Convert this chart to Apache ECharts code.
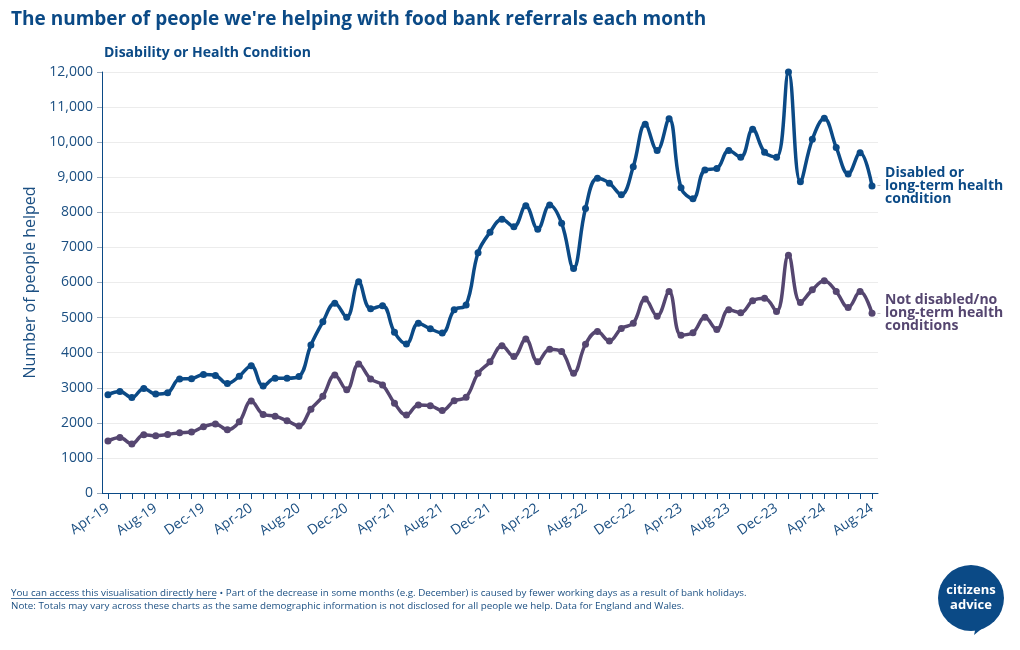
<!DOCTYPE html>
<html>
<head>
<meta charset="utf-8">
<script src="https://cdn.jsdelivr.net/npm/echarts@6/dist/echarts.min.js"></script>
<style>html,body{margin:0;padding:0;background:#fff;}#c{width:1020px;height:650px;}</style>
</head>
<body>
<div id="c"></div>
<script>
const months = ['Apr-19','May-19','Jun-19','Jul-19','Aug-19','Sep-19','Oct-19','Nov-19','Dec-19',
'Jan-20','Feb-20','Mar-20','Apr-20','May-20','Jun-20','Jul-20','Aug-20','Sep-20','Oct-20','Nov-20','Dec-20',
'Jan-21','Feb-21','Mar-21','Apr-21','May-21','Jun-21','Jul-21','Aug-21','Sep-21','Oct-21','Nov-21','Dec-21',
'Jan-22','Feb-22','Mar-22','Apr-22','May-22','Jun-22','Jul-22','Aug-22','Sep-22','Oct-22','Nov-22','Dec-22',
'Jan-23','Feb-23','Mar-23','Apr-23','May-23','Jun-23','Jul-23','Aug-23','Sep-23','Oct-23','Nov-23','Dec-23',
'Jan-24','Feb-24','Mar-24','Apr-24','May-24','Jun-24','Jul-24','Aug-24'];

const disabled = [2800,2890,2720,2980,2820,2860,3250,3260,3380,3350,3120,3330,3630,3050,3270,3270,3320,4220,4880,5410,5010,
6020,5250,5340,4580,4250,4840,4680,4560,5220,5360,6850,7430,7800,7590,8190,7520,8210,7690,6400,8110,
8970,8830,8500,9300,10510,9760,10670,8700,8390,9210,9250,9760,9570,10370,9710,9570,12000,8870,10080,10680,9850,9090,9700,8750];

const notDisabled = [1480,1580,1400,1660,1630,1670,1720,1740,1890,1970,1800,2030,2620,2240,2190,2060,1910,2390,2760,3360,2940,
3680,3250,3080,2560,2220,2510,2490,2350,2630,2730,3410,3740,4200,3890,4390,3740,4100,4030,3410,4240,
4600,4330,4690,4840,5530,5040,5740,4500,4570,5010,4660,5220,5140,5480,5550,5170,6780,5430,5790,6050,5740,5290,5740,5120];

const yTickLabels = ['0','1000','2000','3000','4000','5000','6000','7000','8000','9,000','10,000','11,000','12,000'];

const seriesNames = ['Disabled or long-term health condition', 'Not disabled/no long-term health conditions'];
const endLabelLines = [['Disabled or','long-term health','condition'],['Not disabled/no','long-term health','conditions']];

const BLUE = '#0b4a86';
const PURPLE = '#554670';
const TXT = '#1b4f82';
const FONT = '"Open Sans", "Noto Sans", sans-serif';

function endLabelFmt(lines) {
  return '{g| }{t|' + lines[0] + '}\n{d|-}{t|' + lines[1] + '}\n{g| }{t|' + lines[2] + '}';
}
function richFor(color) {
  return {
    t: {color: color, fontSize: 14, fontWeight: 'bold', fontFamily: FONT, lineHeight: 13},
    d: {color: '#c4c4c4', fontSize: 12, width: 8, fontFamily: FONT, lineHeight: 13},
    g: {fontSize: 12, width: 8, lineHeight: 13}
  };
}

const chart = echarts.init(document.getElementById('c'), null, {renderer: 'canvas'});
chart.setOption({
  backgroundColor: '#ffffff',
  animation: false,
  textStyle: {fontFamily: FONT},
  title: [
    {text: "The number of people we're helping with food bank referrals each month", left: 6, top: 5,
     textStyle: {color: BLUE, fontSize: 19, fontWeight: 'bold', fontFamily: FONT}},
    {text: 'Disability or Health Condition', left: 99, top: 41,
     textStyle: {color: BLUE, fontSize: 14, fontWeight: 'bold', fontFamily: FONT}}
  ],
  grid: {left: 102, right: 142, top: 72, bottom: 157, containLabel: false, outerBoundsMode: 'none'},
  xAxis: {
    type: 'category',
    data: months,
    boundaryGap: true,
    axisLine: {show: true, lineStyle: {color: BLUE, width: 1}},
    axisTick: {show: true, alignWithLabel: true, interval: 0, length: 6, lineStyle: {color: BLUE}},
    axisLabel: {interval: 3, rotate: 34, color: TXT, fontSize: 14, fontFamily: FONT, margin: 14},
    splitLine: {show: false}
  },
  yAxis: {
    type: 'value',
    min: 0, max: 12000, interval: 1000,
    name: 'Number of people helped',
    nameLocation: 'middle',
    nameGap: 62,
    nameTextStyle: {color: TXT, fontSize: 16, fontFamily: FONT},
    axisLine: {show: true, lineStyle: {color: BLUE, width: 1}},
    axisTick: {show: true, length: 5, lineStyle: {color: '#9aa9bb'}},
    axisLabel: {color: TXT, fontSize: 14, fontFamily: FONT, margin: 9,
      formatter: function (v) { return yTickLabels[Math.round(v / 1000)]; }},
    splitLine: {show: true, lineStyle: {color: '#ececec', width: 1}}
  },
  series: [
    {
      name: seriesNames[0], type: 'line', data: disabled, smooth: 0.4,
      symbol: 'circle', symbolSize: 7, showSymbol: true,
      lineStyle: {color: BLUE, width: 3.5}, itemStyle: {color: BLUE},
      endLabel: {show: true, distance: 5, formatter: endLabelFmt(endLabelLines[0]), rich: richFor(BLUE)},
      z: 3
    },
    {
      name: seriesNames[1], type: 'line', data: notDisabled, smooth: 0.4,
      symbol: 'circle', symbolSize: 7, showSymbol: true,
      lineStyle: {color: PURPLE, width: 3.5}, itemStyle: {color: PURPLE},
      endLabel: {show: true, distance: 5, formatter: endLabelFmt(endLabelLines[1]), rich: richFor(PURPLE)},
      z: 2
    }
  ],
  graphic: [
    {type: 'text', left: 11, top: 588, style: {
      text: '{u|You can access this visualisation directly here}{n| \u2022 Part of the decrease in some months (e.g. December) is caused by fewer working days as a result of bank holidays.}',
      rich: {u: {fill: TXT, font: '9.8px "Open Sans", sans-serif'}, n: {fill: TXT, font: '9.8px "Open Sans", sans-serif'}}}},
    {type: 'text', left: 11, top: 601, style: {text: 'Note: Totals may vary across these charts as the same demographic information is not disclosed for all people we help. Data for England and Wales.', fill: TXT, font: '9.8px "Open Sans", sans-serif'}},
    {type: 'line', shape: {x1: 11, y1: 598.5, x2: 216, y2: 598.5}, style: {stroke: TXT, lineWidth: 0.8}},
    {type: 'polygon', shape: {points: [[978, 618], [1000, 614], [974, 635]]}, style: {fill: BLUE}},
    {type: 'circle', shape: {cx: 971, cy: 598, r: 33}, style: {fill: BLUE}},
    {type: 'text', x: 971, y: 590, style: {text: 'citizens', fill: '#ffffff', font: 'bold 13px "Open Sans", sans-serif', align: 'center', verticalAlign: 'middle'}},
    {type: 'text', x: 971, y: 605, style: {text: 'advice', fill: '#ffffff', font: 'bold 13px "Open Sans", sans-serif', align: 'center', verticalAlign: 'middle'}}
  ]
});
</script>
</body>
</html>
